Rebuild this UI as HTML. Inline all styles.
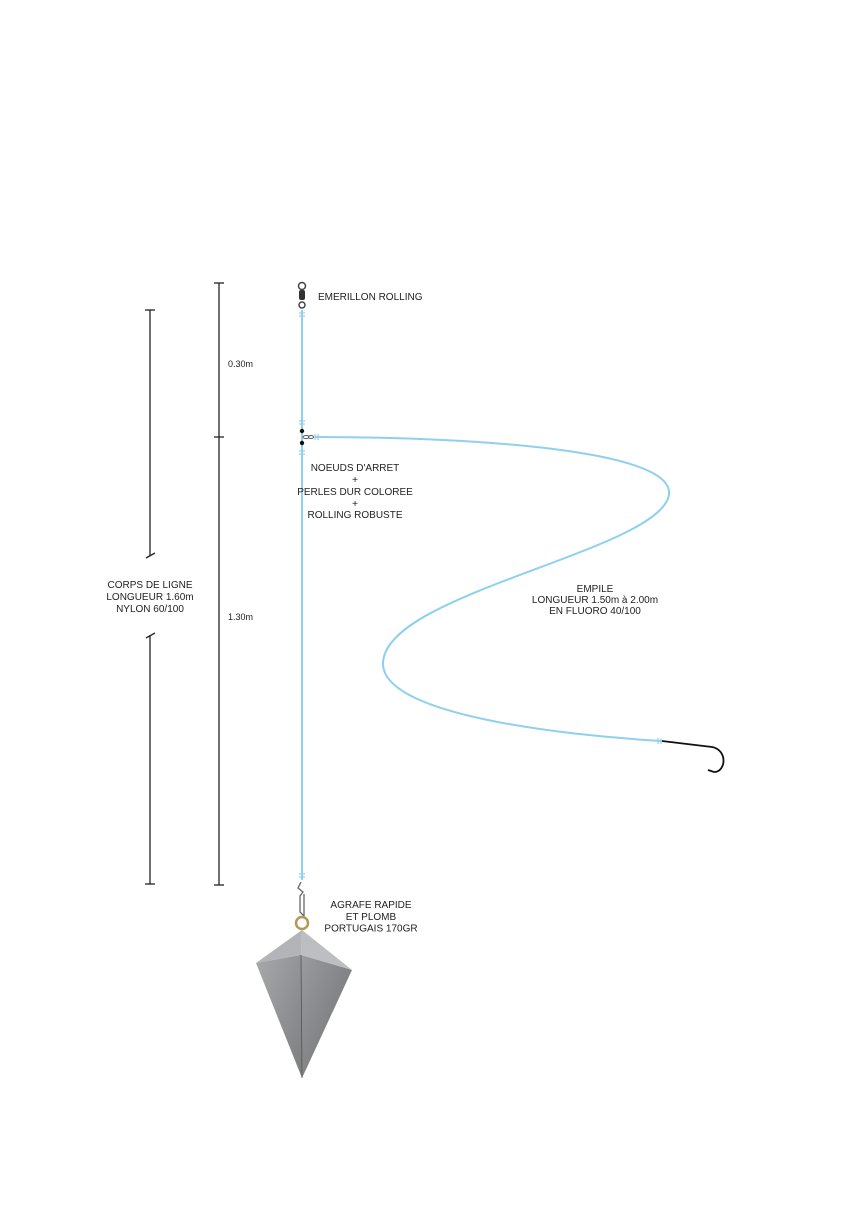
<!DOCTYPE html>
<html><head><meta charset="utf-8"><style>
html,body{margin:0;padding:0;background:#fff;}
svg{display:block;}
text{font-family:"Liberation Sans",sans-serif;fill:#222;}
</style></head><body>
<svg width="860" height="1216" viewBox="0 0 860 1216" xmlns="http://www.w3.org/2000/svg">
<defs>
<linearGradient id="lead" x1="0" y1="0" x2="1" y2="1">
<stop offset="0" stop-color="#a8a9ac"/><stop offset="1" stop-color="#7d7e81"/>
</linearGradient>
<linearGradient id="lead2" x1="0" y1="0" x2="1" y2="1">
<stop offset="0" stop-color="#9a9b9e"/><stop offset="1" stop-color="#6e6f72"/>
</linearGradient>
</defs>
<g stroke="#222" stroke-width="1.3" fill="none">
<line x1="219" y1="283" x2="219" y2="885"/>
<line x1="214" y1="283" x2="224" y2="283"/>
<line x1="214" y1="437" x2="224" y2="437"/>
<line x1="214" y1="885" x2="224" y2="885"/>
<line x1="150" y1="310" x2="150" y2="556"/>
<line x1="145" y1="310" x2="155" y2="310"/>
<line x1="146" y1="558" x2="155" y2="553"/>
<line x1="150" y1="635" x2="150" y2="884"/>
<line x1="146" y1="638" x2="155" y2="633"/>
<line x1="145" y1="884" x2="155" y2="884"/>
</g>
<text x="228" y="367" font-size="9">0.30m</text>
<text x="228" y="620" font-size="9">1.30m</text>
<text x="150" y="588" font-size="10" text-anchor="middle">CORPS DE LIGNE</text>
<text x="150" y="600" font-size="10" text-anchor="middle">LONGUEUR 1.60m</text>
<text x="150" y="612" font-size="10" text-anchor="middle">NYLON 60/100</text>
<line x1="302" y1="310" x2="302" y2="880" stroke="#8ed0ee" stroke-width="2"/>
<path d="M315 437 C 470 437, 720 450, 660 510 C 610 560, 380 600, 383 665 C 386 715, 560 735, 662 741" stroke="#8ed0ee" stroke-width="2" fill="none"/>
<g stroke="#8ed0ee" stroke-width="1.2">
<line x1="299" y1="313" x2="305" y2="313"/><line x1="299" y1="316" x2="305" y2="316"/>
<line x1="299" y1="421" x2="305" y2="421"/><line x1="299" y1="424" x2="305" y2="424"/>
<line x1="299" y1="451" x2="305" y2="451"/><line x1="299" y1="454" x2="305" y2="454"/>
<line x1="299" y1="874" x2="305" y2="874"/><line x1="299" y1="877" x2="305" y2="877"/>
<line x1="315" y1="434" x2="315" y2="440"/><line x1="318" y1="434" x2="318" y2="440"/>
<line x1="658" y1="738" x2="658" y2="744"/><line x1="661" y1="738" x2="661" y2="744"/>
</g>
<circle cx="302" cy="286" r="3.5" fill="none" stroke="#444" stroke-width="1.5"/>
<rect x="299" y="290" width="6" height="10" rx="2" fill="#333"/>
<circle cx="302" cy="305" r="3" fill="none" stroke="#444" stroke-width="1.5"/>
<circle cx="302" cy="431" r="2.2" fill="#111"/>
<circle cx="302" cy="443" r="2.2" fill="#111"/>
<ellipse cx="306" cy="437" rx="3" ry="1.5" fill="none" stroke="#555"/>
<ellipse cx="311" cy="437" rx="2.5" ry="1.5" fill="none" stroke="#555"/>
<path d="M662 741 L712 747 C 728 750, 726 772, 714 772 L708 770" stroke="#111" stroke-width="1.8" fill="none"/>
<text x="318" y="300" font-size="10">EMERILLON ROLLING</text>
<text x="355" y="471" font-size="10" text-anchor="middle">NOEUDS D'ARRET</text>
<text x="355" y="483" font-size="10" text-anchor="middle">+</text>
<text x="355" y="495" font-size="10" text-anchor="middle">PERLES DUR COLOREE</text>
<text x="355" y="507" font-size="10" text-anchor="middle">+</text>
<text x="355" y="518" font-size="10" text-anchor="middle">ROLLING ROBUSTE</text>
<text x="595" y="592" font-size="10" text-anchor="middle">EMPILE</text>
<text x="595" y="603" font-size="10" text-anchor="middle">LONGUEUR 1.50m à 2.00m</text>
<text x="595" y="614" font-size="10" text-anchor="middle">EN FLUORO 40/100</text>
<text x="371" y="908" font-size="10" text-anchor="middle">AGRAFE RAPIDE</text>
<text x="371" y="920" font-size="10" text-anchor="middle">ET PLOMB</text>
<text x="371" y="931.5" font-size="10" text-anchor="middle">PORTUGAIS 170GR</text>
<path d="M301 882 L298 888 L303 892 L300 896 L300 912 L304 916 L304 894" stroke="#666" stroke-width="1.3" fill="none"/>
<circle cx="302" cy="923" r="6" fill="none" stroke="#b09a5a" stroke-width="2.5"/>
<polygon points="302,930 256,963 301,955" fill="#b3b4b7"/>
<polygon points="302,930 352,970 301,955" fill="#bdbec1"/>
<polygon points="256,963 301,955 302,1078" fill="url(#lead)"/>
<polygon points="301,955 352,970 302,1078" fill="url(#lead2)"/>
<line x1="301" y1="955" x2="302" y2="1078" stroke="#555" stroke-width="0.8"/>
</svg>
</body></html>
